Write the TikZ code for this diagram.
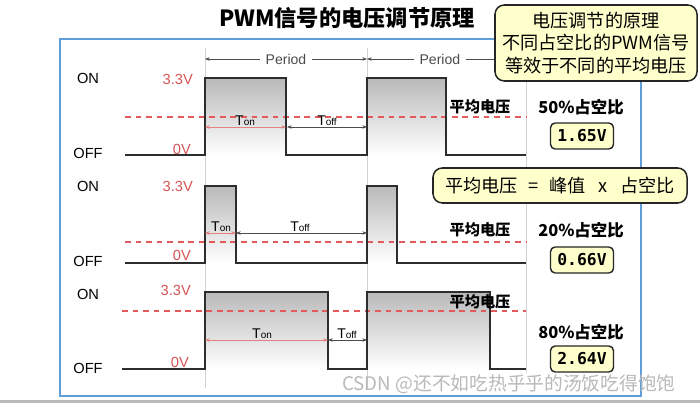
\documentclass[tikz,border=0pt]{standalone}
\usepackage{fontspec}
\setmainfont{Liberation Sans}
\newfontfamily\cjk{Noto Sans CJK SC}
\newfontfamily\monob{DejaVu Sans Mono}
\definecolor{noteyellow}{RGB}{255,255,204}
\definecolor{voltred}{RGB}{214,84,84}
\definecolor{dashred}{RGB}{226,90,90}
\definecolor{tonred}{RGB}{228,128,128}
\definecolor{framblue}{RGB}{96,158,216}
\definecolor{wavegray}{RGB}{45,45,45}
\newcommand{\Tonlbl}{T{\fontsize{8.5pt}{9pt}\selectfont on}}
\newcommand{\Tofflbl}{T{\fontsize{8.5pt}{9pt}\selectfont off}}

\tikzset{
	wave/.style={wavegray,line width=1.3pt},
	pulse/.style={top color=gray!55,bottom color=white,draw=none},
	avgline/.style={dashred,line width=1pt,dash pattern=on 5pt off 4pt},
	guide/.style={gray!35,line width=0.7pt},
	period/.style={black!70,line width=0.5pt,<->,>={Stealth[length=4pt,width=3pt]}},
	tonarr/.style={tonred,line width=0.6pt,<->,>={Stealth[length=4pt,width=3pt]}},
	toffarr/.style={black!70,line width=0.6pt,<->,>={Stealth[length=4pt,width=3pt]}},
	lvl/.style={font=\fontsize{12.5pt}{14pt}\selectfont},
	volt/.style={voltred,anchor=east,font=\fontsize{12.5pt}{14pt}\selectfont},
	tlbl/.style={font=\fontsize{12pt}{13pt}\selectfont,inner sep=1pt},
	avgtxt/.style={font=\cjk\bfseries\fontsize{13pt}{15pt}\selectfont},
	dutytxt/.style={font=\cjk\bfseries\fontsize{14pt}{16pt}\selectfont},
	valbox/.style={draw=black!85,fill=noteyellow,rounded corners=4pt,line width=1.2pt,
		minimum width=1.89cm,minimum height=0.78cm,inner sep=0pt,
		font=\monob\bfseries\fontsize{14pt}{16pt}\selectfont},
	note/.style={draw=black!85,fill=noteyellow,rounded corners=8pt,line width=1.3pt,
		align=center,inner sep=0pt,font=\cjk\fontsize{15.5pt}{19pt}\selectfont}
}
\usetikzlibrary{arrows.meta}

\begin{document}
\begin{tikzpicture}[x=0.03cm,y=-0.03cm]
	\useasboundingbox (0,0) rectangle (700,403);
	\fill[white] (0,0) rectangle (700,403);
	\fill[gray!55] (0,400) rectangle (700,403);

	% frame and guides
	\draw[framblue,line width=1pt] (60,39) rectangle (641,396);
	\draw[guide] (205,48) -- (205,388);
	\draw[guide] (367,48) -- (367,388);
	\draw[guide] (526,60) -- (526,372);

	\node[font=\cjk\bfseries\fontsize{19pt}{21pt}\selectfont] (title) at (347,18) {PWM信号的电压调节原理};

	% period marks
	\draw[period] (205,59) -- node[fill=white,inner sep=5pt,font=\fontsize{12pt}{13pt}\selectfont] (per1) {Period} (367,59);
	\draw[period] (367,59) -- node[pos=0.45,fill=white,inner sep=5pt,font=\fontsize{12pt}{13pt}\selectfont] (per2) {Period} (529,59);

	% 50%
	\fill[pulse] (205,78) rectangle (286,155);
	\fill[pulse] (367,78) rectangle (446,155);
	\draw[avgline] (125,117) -- (526,117);
	\draw[wave] (125,155) -- (205,155) -- (205,78) -- (286,78) -- (286,155) -- (367,155) -- (367,78) -- (446,78) -- (446,155) -- (526,155);
	\draw[tonarr] (205,127) -- (286,127);
	\draw[toffarr] (287,127) -- (367,127);
	\node[tlbl,anchor=south] (ton1) at (245,127) {\Tonlbl};
	\node[tlbl,anchor=south] (toff1) at (327,127) {\Tofflbl};
	\node[lvl] (on1) at (88,78) {ON};
	\node[lvl] (off1) at (88,153) {OFF};
	\node[volt] (hi1) at (197,79) {3.3V};
	\node[volt] (lo1) at (195,149) {0V};
	\node[avgtxt] (avg1) at (480,107) {平均电压};
	\node[dutytxt] (duty1) at (581,107) {50\%占空比};
	\node[valbox] (val1) at (582,136) {1.65V};

	% 20%
	\fill[pulse] (205,186) rectangle (236,263);
	\fill[pulse] (367,186) rectangle (397,263);
	\draw[avgline] (125,242) -- (526,242);
	\draw[wave] (125,263) -- (205,263) -- (205,186) -- (236,186) -- (236,263) -- (367,263) -- (367,186) -- (397,186) -- (397,263) -- (526,263);
	\draw[tonarr] (205,233) -- (236,233);
	\draw[toffarr] (236,233) -- (367,233);
	\node[tlbl,anchor=south] (ton2) at (221,233) {\Tonlbl};
	\node[tlbl,anchor=south] (toff2) at (300,233) {\Tofflbl};
	\node[lvl] (on2) at (88,186) {ON};
	\node[lvl] (off2) at (88,261) {OFF};
	\node[volt] (hi2) at (197,186) {3.3V};
	\node[volt] (lo2) at (195,255) {0V};
	\node[avgtxt] (avg2) at (480,230) {平均电压};
	\node[dutytxt] (duty2) at (581,230) {20\%占空比};
	\node[valbox] (val2) at (582,260) {0.66V};

	% 80%
	\fill[pulse] (205,292) rectangle (328,369);
	\fill[pulse] (367,292) rectangle (490,369);
	\draw[avgline] (122,311) -- (526,311);
	\draw[wave] (122,369) -- (205,369) -- (205,292) -- (328,292) -- (328,369) -- (367,369) -- (367,292) -- (490,292) -- (490,369) -- (526,369);
	\draw[tonarr] (205,340) -- (328,340);
	\draw[toffarr] (328,340) -- (367,340);
	\node[tlbl,anchor=south] (ton3) at (262,340) {\Tonlbl};
	\node[tlbl,anchor=south] (toff3) at (347,340) {\Tofflbl};
	\node[lvl] (on3) at (88,294) {ON};
	\node[lvl] (off3) at (88,368) {OFF};
	\node[volt] (hi3) at (195,290) {3.3V};
	\node[volt] (lo3) at (193,362) {0V};
	\node[avgtxt] (avg3) at (480,302) {平均电压};
	\node[dutytxt] (duty3) at (581,332) {80\%占空比};
	\node[valbox] (val3) at (582,359) {2.64V};

	% notes
	\node[note,minimum width=6.06cm,minimum height=2.28cm] (note) at (596,43) {电压调节的原理\\不同占空比的PWM信号\\等效于不同的平均电压};
	\node[note,minimum width=7.62cm,minimum height=1.05cm] (formula) at (560,185.5) {平均电压\hspace{0.6em}=\hspace{0.6em}峰值\hspace{0.7em}x\hspace{0.7em}占空比};

	\node[gray!55,font=\cjk\fontsize{16pt}{18pt}\selectfont] (mark) at (509,384) {CSDN @还不如吃热乎乎的汤饭吃得饱饱};
\end{tikzpicture}
\end{document}
